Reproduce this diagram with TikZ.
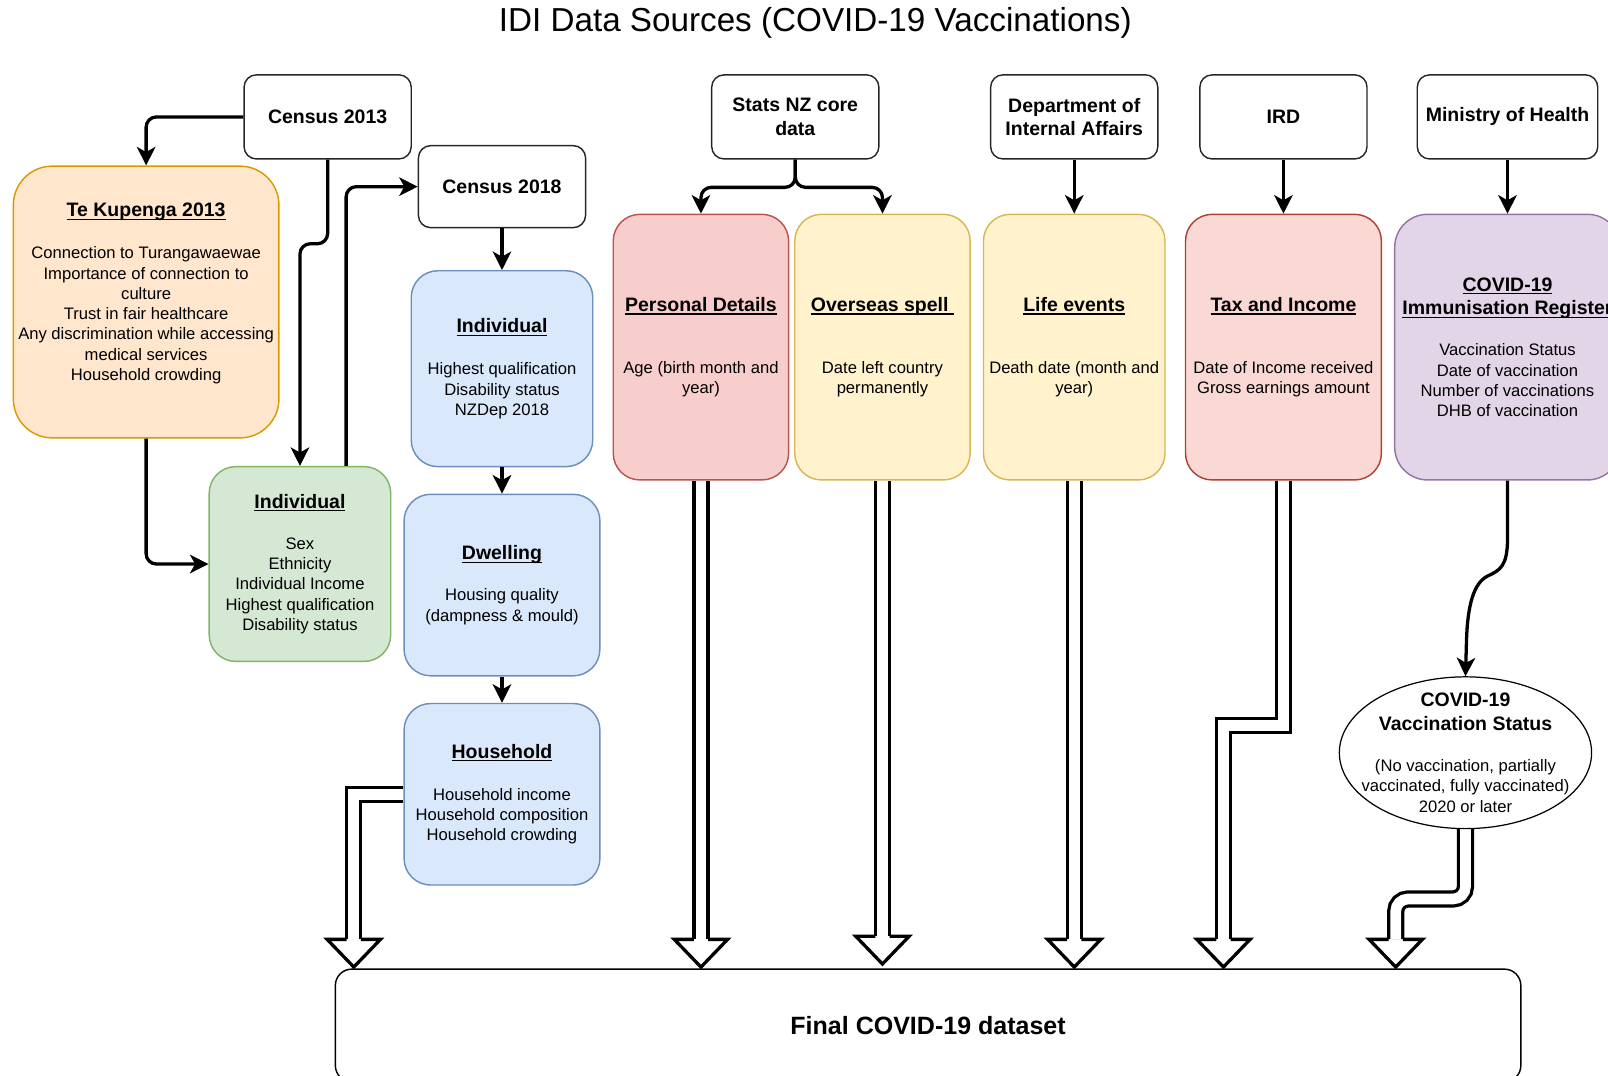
\documentclass[tikz,border=0pt]{standalone}
\usepackage{fontspec}
\setmainfont{Liberation Sans}
\usetikzlibrary{arrows.meta,calc,shapes.geometric,backgrounds}
\definecolor{kupfill}{HTML}{FFE6CC}\definecolor{kupline}{HTML}{D79B00}
\definecolor{grnfill}{HTML}{D5E8D4}\definecolor{grnline}{HTML}{82B366}
\definecolor{blufill}{HTML}{DAE8FC}\definecolor{bluline}{HTML}{6C8EBF}
\definecolor{redfill}{HTML}{F8CECC}\definecolor{redline}{HTML}{B85450}
\definecolor{yelfill}{HTML}{FFF2CC}\definecolor{yelline}{HTML}{D6B656}
\definecolor{taxfill}{HTML}{FAD9D5}\definecolor{taxline}{HTML}{AE4132}
\definecolor{purfill}{HTML}{E1D5E7}\definecolor{purline}{HTML}{9673A6}
% bold underlined heading inside a card
\newcommand{\hd}[1]{{\fontsize{9.5pt}{11.5pt}\selectfont\bfseries\sbox0{#1}\rlap{\rule[-1.5pt]{\wd0}{0.6pt}}\usebox0}}
\newcommand{\bh}[1]{{\fontsize{9.5pt}{11.5pt}\selectfont\bfseries #1}}
% open head of a fat arrow, tip at #1
\newcommand{\fathead}[1]{\filldraw[fill=white,line width=1.6pt,line join=miter] ($(#1)+(-7,-27)$) -- ($(#1)+(-26,-27)$) -- (#1) -- ($(#1)+(26,-27)$) -- ($(#1)+(7,-27)$);}
\begin{document}
\begin{tikzpicture}[x=0.5pt,y=-0.5pt,
  font=\fontsize{8.1pt}{9.9pt}\selectfont,
  src/.style={draw=black!85,line width=0.7pt,rounded corners=6pt,minimum width=81.5pt,minimum height=41pt,inner sep=0pt,align=center,font=\fontsize{9.5pt}{11.5pt}\selectfont\bfseries},
  card/.style={line width=0.7pt,inner sep=0pt,align=center,rounded corners=13pt},
  flow/.style={-{Stealth[length=9pt,width=9pt,inset=2.5pt]},line width=1.6pt,rounded corners=5pt},
  fatflow/.style={line width=1.6pt,double=white,double distance=5.2pt}]
\useasboundingbox (0,0) rectangle (1568,1049);
\clip (0,0) rectangle (1568,1049);
\node[font=\fontsize{16.2pt}{19pt}\selectfont] (title) at (795,22) {IDI Data Sources (COVID-19 Vaccinations)};

% sources
\node[src] (c13) at (319.5,114) {Census 2013};
\node[src,minimum height=40pt] (c18) at (489.5,182) {Census 2018};
\node[src] (stats) at (775.5,114) {Stats NZ core\\data};
\node[src] (dia) at (1047.5,114) {Department of\\Internal Affairs};
\node[src] (ird) at (1251.5,114) {IRD};
\node[src,minimum width=88pt] (moh) at (1470,114) {Ministry of Health};

% tables
\node[card,fill=kupfill,draw=kupline,rounded corners=19pt,minimum width=129.5pt,minimum height=132.5pt] (kup) at (142.5,294.5) {\hd{Te Kupenga 2013}\\[10.6pt] Connection to Turangawaewae\\ Importance of connection to\\ culture\\ Trust in fair healthcare\\ Any discrimination while accessing\\ medical services\\ Household crowding\\ \mbox{}};
\node[card,fill=grnfill,draw=grnline,minimum width=88.5pt,minimum height=95pt] (ind13) at (292.5,550) {\hd{Individual}\\[10.1pt] Sex\\ Ethnicity\\ Individual Income\\ Highest qualification\\ Disability status};
\node[card,fill=blufill,draw=bluline,minimum width=88.5pt,minimum height=95.5pt] (ind18) at (489.5,359.5) {\hd{Individual}\\[10.6pt] Highest qualification\\ Disability status\\ NZDep 2018};
\node[card,fill=blufill,draw=bluline,minimum width=95.5pt,minimum height=88.5pt] (dwell) at (489.5,570.5) {\hd{Dwelling}\\[10.1pt] Housing quality\\ (dampness \& mould)};
\node[card,fill=blufill,draw=bluline,minimum width=95.5pt,minimum height=88.5pt] (hh) at (489.5,774.5) {\hd{Household}\\[10.6pt] Household income\\ Household composition\\ Household crowding};
\node[card,fill=redfill,draw=redline,minimum width=85.5pt,minimum height=129.5pt] (pers) at (683.5,338.5) {\hd{Personal Details}\\[20.1pt] Age (birth month and\\ year)};
\node[card,fill=yelfill,draw=yelline,minimum width=85.5pt,minimum height=129.5pt] (over) at (860.5,338.5) {\hd{Overseas spell\ }\\[20.1pt] Date left country\\ permanently};
\node[card,fill=yelfill,draw=yelline,minimum width=88.5pt,minimum height=129.5pt] (life) at (1047.5,338.5) {\hd{Life events}\\[20.1pt] Death date (month and\\ year)};
\node[card,fill=taxfill,draw=taxline,minimum width=95.5pt,minimum height=129.5pt] (tax) at (1251.5,338.5) {\hd{Tax and Income}\\[20.1pt] Date of Income received\\ Gross earnings amount};
\node[card,fill=purfill,draw=purline,rounded corners=16pt,minimum width=110pt,minimum height=129.5pt] (reg) at (1470,338.5) {\hd{COVID-19}\\[1.6pt]\hd{Immunisation Register}\\[10.1pt] Vaccination Status\\ Date of vaccination\\ Number of vaccinations\\ DHB of vaccination};

\node[draw,ellipse,line width=0.6pt,minimum width=123pt,minimum height=74pt,inner sep=0pt] (vac) at (1429,734) {};
\node[align=center,inner sep=0pt] (vactxt) at (vac.center) {\bh{COVID-19}\\[1.6pt]\bh{Vaccination Status}\\[10.1pt] (No vaccination, partially\\ vaccinated, fully vaccinated)\\ 2020 or later};

\node[draw,line width=0.7pt,rounded corners=8pt,minimum width=578pt,minimum height=55pt,font=\fontsize{12.2pt}{14pt}\selectfont\bfseries] (final) at (905,1000) {Final COVID-19 dataset};

% links
\draw[flow] (c13.west) -| (kup.north);
\draw[flow] (c13.south) -- ++(0,82) -| (ind13.north);
\draw[flow] ($(ind13.north)+(45,0)$) |- (c18.west);
\draw[flow] (kup.south) |- (ind13.west);
\draw[flow] (c18) -- (ind18);
\draw[flow] (ind18) -- (dwell);
\draw[flow] (dwell) -- (hh);
\draw[flow] (stats.south) -- ++(0,27) -| (pers.north);
\draw[flow] (stats.south) -- ++(0,27) -| (over.north);
\draw[flow] (dia) -- (life);
\draw[flow] (ird) -- (tax);
\draw[flow] (moh) -- (reg);
\draw[flow,sharp corners] (reg.south) -- (1470,525) .. controls (1470,552) and (1463,556) .. (1450,562) .. controls (1437,569) and (1431,590) .. (1430,625) -- (vac.north);

% fat arrows into the final dataset
\coordinate (f1) at (345,943);
\coordinate (f2) at (683.5,943);
\coordinate (f3) at (860.5,940);
\coordinate (f4) at (1047.5,943);
\coordinate (f5) at (1193,943);
\coordinate (f6) at (1361,943);
\begin{pgfonlayer}{background}
\draw[fatflow] (hh.west) -| ($(f1)+(0,-27)$);
\draw[fatflow] (pers.south) -- ($(f2)+(0,-27)$);
\draw[fatflow] (over.south) -- ($(f3)+(0,-27)$);
\draw[fatflow] (life.south) -- ($(f4)+(0,-27)$);
\draw[fatflow] (tax.south) -- ++(0,239) -| ($(f5)+(0,-27)$);
\draw[fatflow,rounded corners=6pt] (vac.south) -- ++(0,68) -| ($(f6)+(0,-27)$);
\end{pgfonlayer}
\fathead{f1}\fathead{f2}\fathead{f3}\fathead{f4}\fathead{f5}\fathead{f6}
\end{tikzpicture}
\end{document}
